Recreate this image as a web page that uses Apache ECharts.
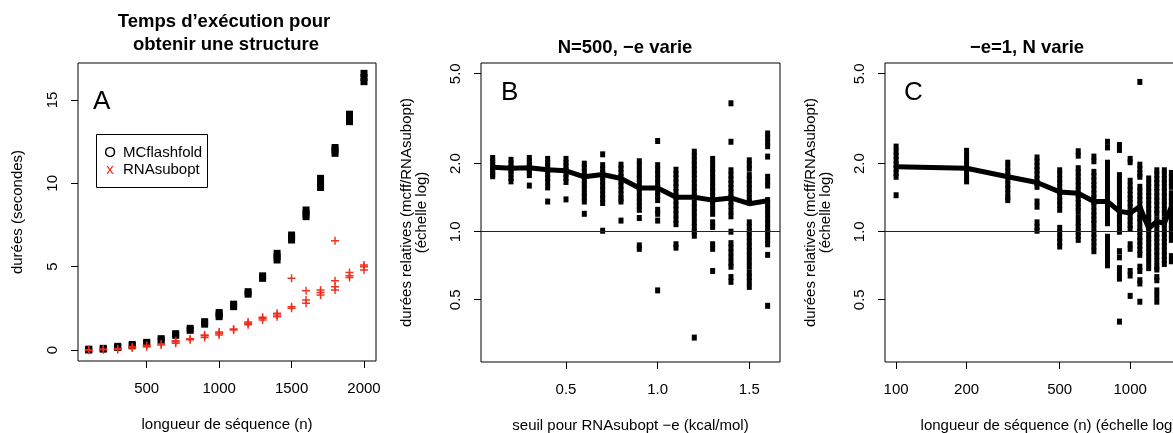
<!DOCTYPE html>
<html><head><meta charset="utf-8">
<script src="https://cdn.jsdelivr.net/npm/echarts@6/dist/echarts.min.js"></script>
<style>html,body{margin:0;padding:0;background:#fff;overflow:hidden}#c{width:1173px;height:433px}</style>
</head><body><div id="c"></div>
<script>
const FONT = '"Liberation Sans", Arial, Helvetica, sans-serif';

// ---------- Panel A : execution time (seconds) vs sequence length ----------
const lengthsA = [100,200,300,400,500,600,700,800,900,1000,1100,1200,1300,1400,1500,1600,1700,1800,1900,2000];
const mcflashfoldTimes = [
  [0.0,0.05],[0.05,0.1],[0.15,0.22],[0.25,0.33],[0.38,0.46],[0.58,0.68],[0.88,0.98],[1.18,1.3],
  [1.55,1.7],[2.0,2.12,2.25],[2.6,2.75],[3.35,3.5],[4.3,4.45],[5.4,5.6,5.8],[6.6,6.75,6.9],
  [8.0,8.2,8.4],[9.75,10.0,10.3],[11.8,12.0,12.15],[13.7,13.9,14.15],[16.1,16.35,16.6]
];
const rnasuboptTimes = [
  [-0.02,0.02],[0.02,0.06],[0.03,0.08],[0.12,0.2],[0.2,0.28],[0.3,0.38],[0.4,0.5,0.55],[0.62,0.68],
  [0.75,0.85,0.9],[0.9,1.0,1.08],[1.2,1.26],[1.52,1.6,1.68],[1.8,1.9,1.97],[2.0,2.1,2.2],
  [2.5,2.6,4.3],[2.8,3.0,3.55],[3.3,3.45,3.6],[3.6,3.8,4.15,6.55],[4.35,4.45,4.65],[4.8,5.0,5.1]
];
const xTicksA = [500,1000,1500,2000];
const yTicksA = [0,5,10,15];

// ---------- Panel B : relative durations vs RNAsubopt -e ----------
const thresholdsB = [0.1,0.2,0.3,0.4,0.5,0.6,0.7,0.8,0.9,1.0,1.1,1.2,1.3,1.4,1.5,1.6];
const ratiosB = [
  [2.12,2.05,1.98,1.92,1.86,1.8,1.76],
  [2.08,2.0,1.93,1.86,1.8,1.73,1.67],
  [2.12,2.04,1.97,1.9,1.84,1.78,1.6],
  [2.1,2.02,1.95,1.88,1.8,1.73,1.66,1.57,1.36],
  [2.1,2.02,1.95,1.88,1.8,1.73,1.66,1.39],
  [2.0,1.92,1.84,1.76,1.69,1.62,1.55,1.48,1.42,1.36,1.2],
  [2.2,1.97,1.89,1.82,1.74,1.67,1.6,1.53,1.46,1.4,1.34,1.01],
  [1.98,1.9,1.82,1.75,1.67,1.6,1.53,1.46,1.4,1.36,1.12],
  [2.05,1.96,1.87,1.79,1.71,1.63,1.56,1.49,1.42,1.36,1.3,1.25,1.15,0.87,0.84],
  [2.52,1.97,1.88,1.8,1.72,1.64,1.57,1.5,1.44,1.38,1.25,1.2,1.12,0.55],
  [1.88,1.8,1.72,1.64,1.57,1.5,1.43,1.37,1.31,1.25,1.19,1.13,1.08,0.88,0.85],
  [2.26,2.16,2.06,1.97,1.88,1.8,1.72,1.64,1.57,1.5,1.43,1.34,1.28,1.22,1.16,1.1,1.05,1.0,0.96,0.34],
  [2.1,2.0,1.9,1.82,1.73,1.65,1.58,1.51,1.44,1.38,1.32,1.26,1.2,1.1,1.05,0.88,0.84,0.67],
  [3.7,2.5,1.87,1.78,1.7,1.63,1.56,1.49,1.42,1.36,1.3,1.23,1.17,1.0,0.89,0.85,0.81,0.77,0.73,0.7,0.63,0.6],
  [2.07,1.98,1.9,1.78,1.7,1.62,1.55,1.48,1.41,1.35,1.1,1.05,1.0,0.95,0.9,0.86,0.82,0.78,0.74,0.7,0.66,0.63,0.6,0.57],
  [2.72,2.6,2.48,2.39,2.15,1.75,1.67,1.6,1.38,1.32,1.26,1.2,1.14,1.09,1.04,1.0,0.96,0.92,0.88,0.79,0.47]
];
const medianB = [1.93,1.91,1.92,1.88,1.86,1.75,1.79,1.72,1.56,1.56,1.42,1.42,1.38,1.41,1.33,1.37];
const xTicksB = [0.5,1.0,1.5];
const yTicksRatio = [0.5,1.0,2.0,5.0];

// ---------- Panel C : relative durations vs sequence length (log) ----------
const lengthsC = [100,200,300,400,500,600,700,800,900,1000,1100,1200,1300,1400,1500,1600,1700,1800,1900,2000];
const ratiosC = [
  [2.38,2.27,2.17,2.07,1.98,1.9,1.82,1.75,1.45],
  [2.28,2.17,2.07,1.98,1.89,1.8,1.72,1.67],
  [2.02,1.93,1.85,1.77,1.69,1.62,1.55,1.48,1.42,1.38],
  [2.13,2.04,1.95,1.87,1.79,1.71,1.64,1.58,1.36,1.29,1.1,1.05,1.01],
  [1.87,1.79,1.71,1.64,1.57,1.5,1.43,1.37,1.31,1.25,1.04,0.99,0.94,0.9,0.86],
  [2.27,2.17,1.91,1.83,1.75,1.67,1.6,1.53,1.46,1.4,1.34,1.28,1.23,1.16,1.1,1.05,1.0,0.96,0.92],
  [2.15,2.05,1.84,1.76,1.68,1.61,1.54,1.47,1.41,1.35,1.29,1.23,1.18,1.13,1.09,1.03,0.98,0.94,0.9,0.86,0.82],
  [2.5,2.36,2.02,1.93,1.84,1.76,1.68,1.61,1.54,1.47,1.4,1.34,1.28,1.22,1.17,1.12,1.09,0.95,0.9,0.86,0.82,0.78,0.75,0.71],
  [2.42,2.3,1.78,1.7,1.62,1.55,1.48,1.43,1.38,1.32,1.26,1.2,1.15,1.1,1.05,1.0,0.82,0.77,0.69,0.65,0.62,0.4],
  [2.1,2.03,1.68,1.6,1.53,1.46,1.4,1.34,1.28,1.22,1.17,1.12,1.07,1.03,0.88,0.84,0.67,0.64,0.52],
  [4.6,1.98,1.89,1.8,1.75,1.58,1.51,1.44,1.38,1.32,1.26,1.2,1.15,1.1,1.04,1.0,0.95,0.91,0.87,0.83,0.79,0.7,0.67,0.61,0.59,0.49],
  [1.72,1.64,1.57,1.5,1.44,1.38,1.32,1.26,1.2,1.15,1.1,1.05,1.02,0.97,0.93,0.89,0.85,0.81,0.77,0.73,0.69],
  [1.87,1.79,1.71,1.64,1.57,1.5,1.43,1.37,1.31,1.25,1.2,1.13,1.08,1.03,0.98,0.94,0.9,0.86,0.82,0.78,0.74,0.7,0.68,0.63,0.61,0.55,0.52,0.49],
  [1.87,1.79,1.71,1.64,1.57,1.5,1.43,1.37,1.31,1.25,1.2,1.13,1.08,1.03,0.98,0.94,0.9,0.86,0.82,0.78,0.75,0.72],
  [1.82,1.74,1.66,1.58,1.48,1.42,1.36,1.3,1.24,1.18,1.12,1.07,1.02,0.97,0.92,0.78,0.74],
  [1.8,1.6,1.4,1.25,1.1,0.95,0.8],
  [1.75,1.55,1.35,1.2,1.05,0.9,0.75],
  [1.8,1.6,1.4,1.22,1.05,0.9,0.7],
  [1.7,1.5,1.3,1.15,1.0,0.85,0.7],
  [1.75,1.55,1.35,1.2,1.05,0.9,0.72]
];
const medianC = [1.94,1.91,1.75,1.65,1.5,1.48,1.36,1.36,1.23,1.21,1.29,1.035,1.11,1.09,1.29,1.25,1.2,1.22,1.18,1.2];
const xTicksC = [100,200,500,1000,2000];

// ---------- build ----------
const lg = Math.log10;
const PLUS = 'path://M4.1,0H5.9V4.1H10V5.9H5.9V10H4.1V5.9H0V4.1H4.1Z';
const txt = {color:'#000', fontFamily:FONT, fontSize:15};

function xAxisCfg(gi, min, max, ticks, name, fmt){
  return {gridIndex:gi, type:'value', min, max, name, nameLocation:'middle', nameGap:56,
    nameTextStyle:Object.assign({}, txt),
    axisLine:{show:false, onZero:false}, splitLine:{show:false},
    axisTick:{show:true, inside:false, length:7, lineStyle:{color:'#000', width:1}, customValues:ticks},
    axisLabel:Object.assign({customValues:ticks, margin:20, formatter:fmt}, txt)};
}
function yAxisCfg(gi, min, max, ticks, name, fmt, gap){
  return {gridIndex:gi, type:'value', min, max, name, nameLocation:'middle', nameGap:gap, nameRotate:90,
    nameTextStyle:Object.assign({lineHeight:15}, txt),
    axisLine:{show:false, onZero:false}, splitLine:{show:false},
    axisTick:{show:true, inside:false, length:7, lineStyle:{color:'#000', width:1}, customValues:ticks},
    axisLabel:Object.assign({customValues:ticks, margin:18, rotate:90, formatter:fmt}, txt)};
}
const ratioFmt = v => Math.pow(10, v).toFixed(1);

const gridBase = {show:true, borderColor:'#000', borderWidth:1, backgroundColor:'transparent', containLabel:false, outerBoundsMode:'none'};

const option = {
  animation:false,
  backgroundColor:'#fff',
  textStyle:{fontFamily:FONT},
  grid:[
    Object.assign({left:78, top:63, width:298, height:298}, gridBase),
    Object.assign({left:481, top:63, width:299, height:299}, gridBase),
    Object.assign({left:885, top:63, width:328, height:299}, gridBase)
  ],
  xAxis:[
    xAxisCfg(0, 25.8, 2082.8, xTicksA, 'longueur de séquence (n)', v => String(v)),
    xAxisCfg(1, 0.0363, 1.6675, xTicksB, 'seuil pour RNAsubopt \u2212e (kcal/mol)', v => v.toFixed(1)),
    xAxisCfg(2, 1.9525, 3.354, xTicksC.map(lg), 'longueur de séquence (n) (échelle log)', v => String(Math.round(Math.pow(10, v))))
  ],
  yAxis:[
    yAxisCfg(0, -0.66, 17.22, yTicksA, 'durées (secondes)', v => String(v), 53),
    yAxisCfg(1, -0.5765, 0.7465, yTicksRatio.map(lg), 'durées relatives (mcff/RNAsubopt)\n(échelle log)', ratioFmt, 52),
    yAxisCfg(2, -0.5765, 0.7465, yTicksRatio.map(lg), 'durées relatives (mcff/RNAsubopt)\n(échelle log)', ratioFmt, 52)
  ],
  series:[
    {type:'scatter', xAxisIndex:0, yAxisIndex:0, symbol:'rect', symbolSize:[7,7],
      itemStyle:{color:'#000', opacity:1}, silent:true,
      data: lengthsA.flatMap((n,i) => mcflashfoldTimes[i].map(v => [n, v]))},
    {type:'scatter', xAxisIndex:0, yAxisIndex:0, symbol:PLUS, symbolSize:8,
      itemStyle:{color:'#f02818', opacity:0.95}, silent:true,
      data: lengthsA.flatMap((n,i) => rnasuboptTimes[i].map(v => [n, v]))},

    {type:'scatter', xAxisIndex:1, yAxisIndex:1, symbol:'rect', symbolSize:[5,6],
      itemStyle:{color:'#000', opacity:1}, silent:true,
      data: thresholdsB.flatMap((e,i) => ratiosB[i].map(v => [e, lg(v)]))},
    {type:'line', xAxisIndex:1, yAxisIndex:1, symbol:'none', silent:true,
      lineStyle:{color:'#000', width:5, join:'round', cap:'round'},
      data: thresholdsB.map((e,i) => [e, lg(medianB[i])]),
      markLine:{silent:true, symbol:['none','none'], label:{show:false},
        lineStyle:{color:'#222', width:1, type:'solid'}, data:[{yAxis:0}]}},

    {type:'scatter', xAxisIndex:2, yAxisIndex:2, symbol:'rect', symbolSize:[5,6],
      itemStyle:{color:'#000', opacity:1}, silent:true,
      data: lengthsC.flatMap((n,i) => ratiosC[i].map(v => [lg(n), lg(v)]))},
    {type:'line', xAxisIndex:2, yAxisIndex:2, symbol:'none', silent:true,
      lineStyle:{color:'#000', width:5, join:'round', cap:'round'},
      data: lengthsC.map((n,i) => [lg(n), lg(medianC[i])]),
      markLine:{silent:true, symbol:['none','none'], label:{show:false},
        lineStyle:{color:'#222', width:1, type:'solid'}, data:[{yAxis:0}]}}
  ],
  graphic:[
    {type:'text', x:224, y:22, style:{text:'Temps d\u2019exécution pour', font:'bold 18.5px '+FONT, fill:'#000', align:'center', verticalAlign:'middle'}},
    {type:'text', x:226, y:45, style:{text:'obtenir une structure', font:'bold 18.5px '+FONT, fill:'#000', align:'center', verticalAlign:'middle'}},
    {type:'text', x:625, y:48, style:{text:'N=500, \u2212e varie', font:'bold 18.5px '+FONT, fill:'#000', align:'center', verticalAlign:'middle'}},
    {type:'text', x:1027, y:48, style:{text:'\u2212e=1, N varie', font:'bold 18.5px '+FONT, fill:'#000', align:'center', verticalAlign:'middle'}},
    {type:'text', x:93, y:102, style:{text:'A', font:'26px '+FONT, fill:'#000', align:'left', verticalAlign:'middle'}},
    {type:'text', x:501, y:93, style:{text:'B', font:'26px '+FONT, fill:'#000', align:'left', verticalAlign:'middle'}},
    {type:'text', x:904, y:93, style:{text:'C', font:'26px '+FONT, fill:'#000', align:'left', verticalAlign:'middle'}},
    {type:'rect', shape:{x:96.5, y:134.5, width:111, height:53}, style:{fill:'#fff', stroke:'#000', lineWidth:1}},
    {type:'text', x:110, y:153, style:{text:'O', font:'15px '+FONT, fill:'#000', align:'center', verticalAlign:'middle'}},
    {type:'text', x:123, y:153, style:{text:'MCflashfold', font:'15px '+FONT, fill:'#000', align:'left', verticalAlign:'middle'}},
    {type:'text', x:110, y:170, style:{text:'x', font:'15px '+FONT, fill:'#f02818', align:'center', verticalAlign:'middle'}},
    {type:'text', x:123, y:170, style:{text:'RNAsubopt', font:'15px '+FONT, fill:'#000', align:'left', verticalAlign:'middle'}}
  ]
};
const chart = echarts.init(document.getElementById('c'), null, {renderer:'canvas'});
chart.setOption(option);
</script></body></html>
